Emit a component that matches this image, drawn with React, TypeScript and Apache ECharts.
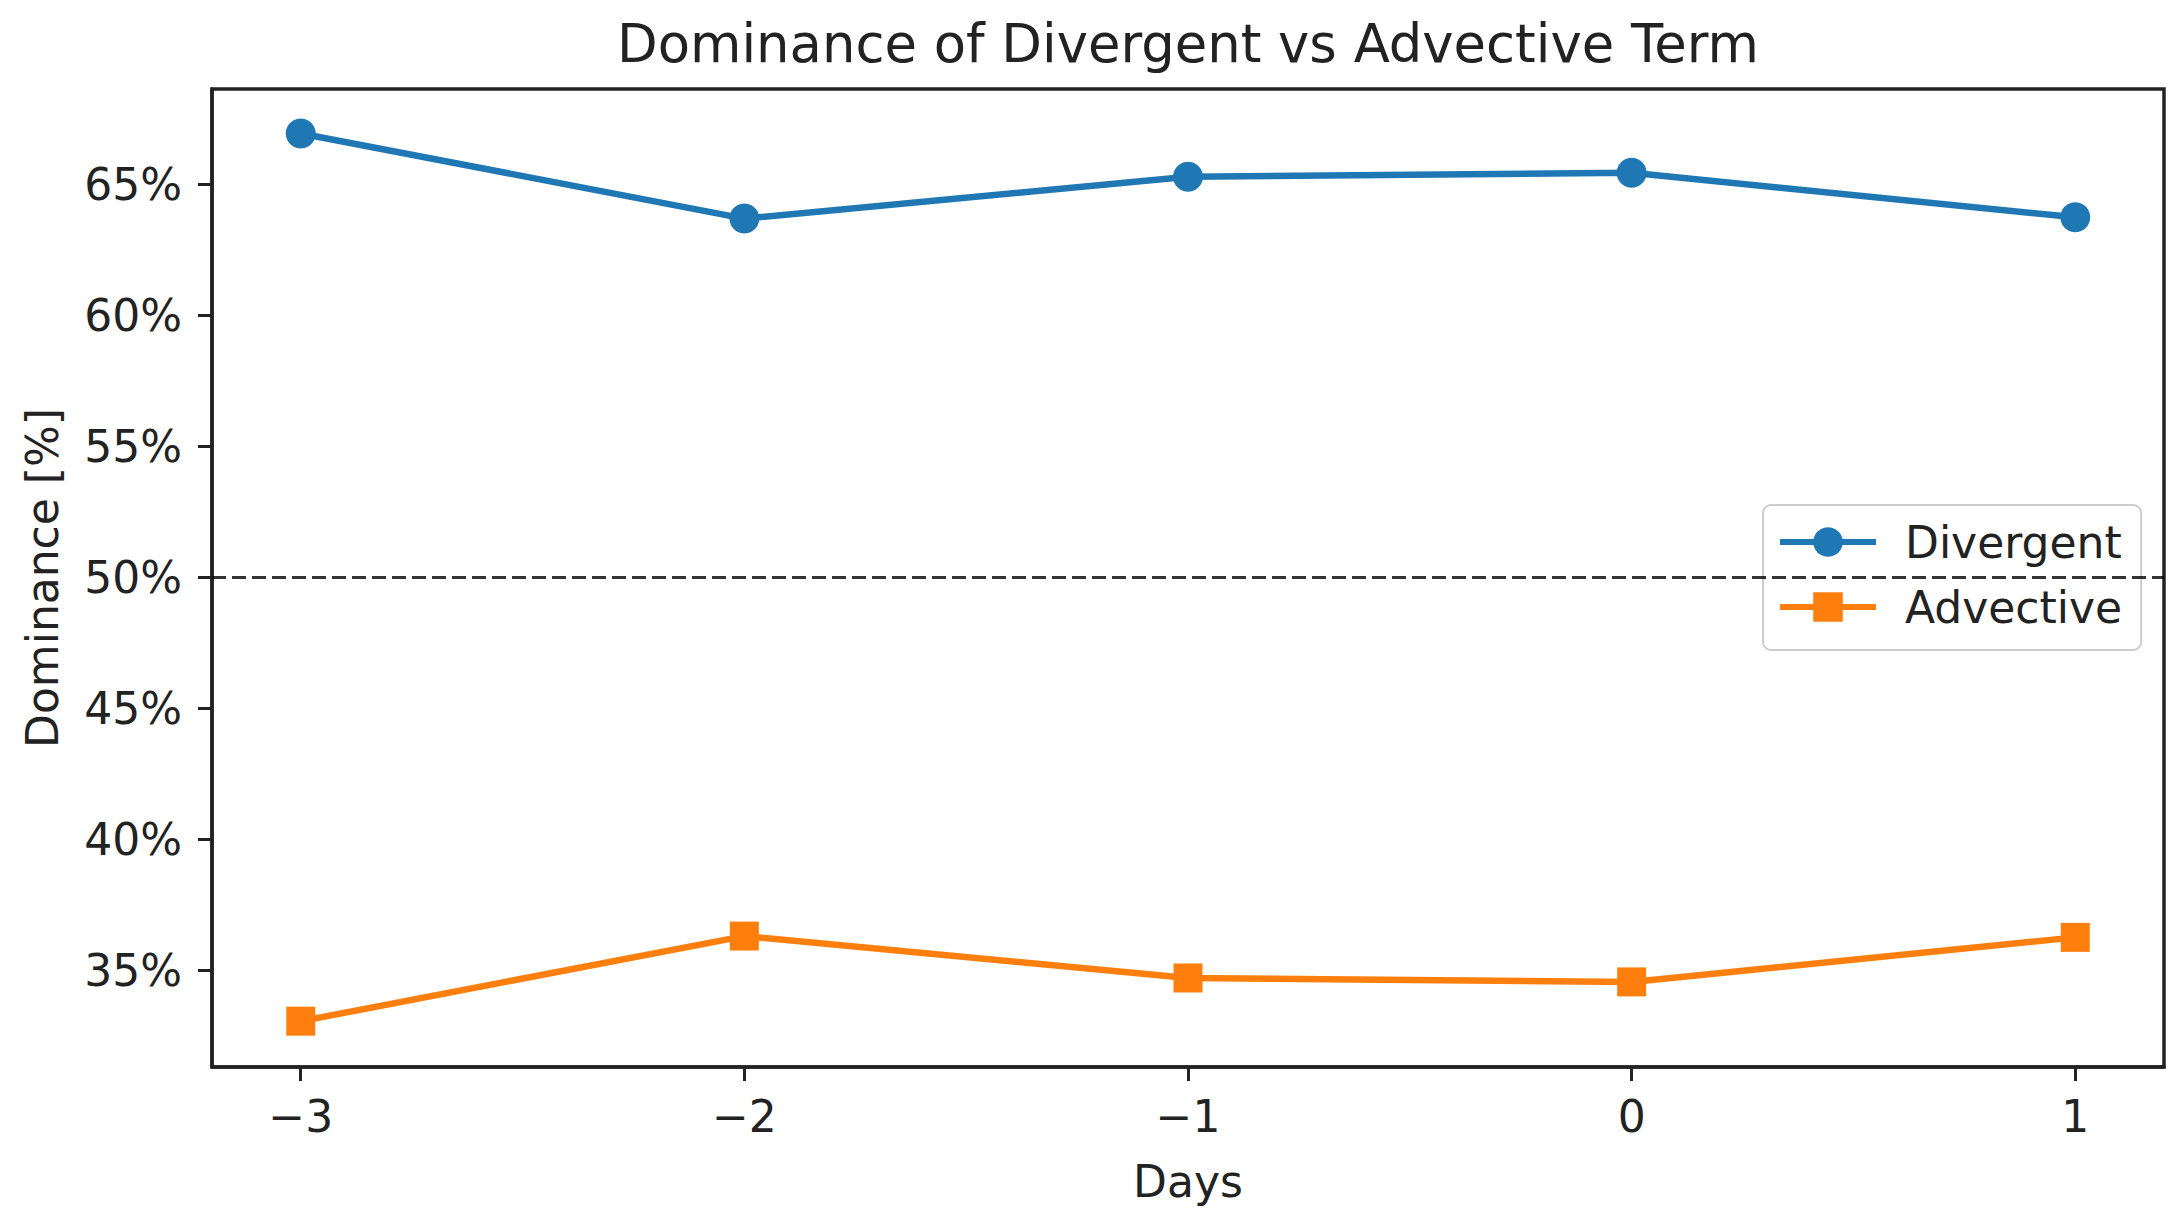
import React, { useEffect, useRef } from "react";
import * as echarts from "echarts";

const days = [-3, -2, -1, 0, 1];
const divergent = [66.95, 63.7, 65.3, 65.45, 63.75];
const advective = [33.05, 36.3, 34.7, 34.55, 36.25];
const yTicks = [35, 40, 45, 50, 55, 60, 65];
const xTicks = [-3, -2, -1, 0, 1];
const refLevel = 50;
const seriesNames = ["Divergent", "Advective"];
const titleText = "Dominance of Divergent vs Advective Term";
const xName = "Days";
const yName = "Dominance [%]";

const FONT = "DejaVu Sans";
const TXT = "#222";

export default function App() {
  const ref = useRef<HTMLDivElement>(null);
  useEffect(() => {
    if (!ref.current) return;
    const chart = echarts.init(ref.current, undefined, { renderer: "svg" });
    const fmtX = (v: number) => (v < 0 ? "\u2212" + Math.abs(v) : String(v));
    const axisCommon = {
      axisLine: { show: true, onZero: false, lineStyle: { color: "#222", width: 3.5 } },
      axisTick: { show: true, inside: false, length: 14, lineStyle: { color: "#222", width: 3 } },
      splitLine: { show: false },
      nameTextStyle: { fontFamily: FONT, fontSize: 44, color: TXT },
    };
    chart.setOption({
      animation: false,
      backgroundColor: "#fff",
      graphic: [
        {
          type: "text",
          x: 1188,
          y: 43,
          style: {
            text: titleText,
            fontFamily: FONT,
            fontSize: 52.8,
            fill: TXT,
            textAlign: "center",
            textVerticalAlign: "middle",
          },
        },
      ],
      grid: {
        left: 212,
        top: 89,
        width: 1952,
        height: 978,
        show: true,
        borderColor: "#222",
        borderWidth: 3.5,
        backgroundColor: "transparent",
        containLabel: false,
      },
      legend: {
        orient: "vertical",
        left: 1763,
        top: 505,
        data: seriesNames,
        itemWidth: 96,
        itemHeight: 37,
        itemGap: 21,
        padding: [15, 19, 21, 14],
        backgroundColor: "rgba(255,255,255,0.8)",
        borderColor: "#cccccc",
        borderWidth: 2,
        borderRadius: 8,
        lineStyle: { width: 6 },
        textStyle: {
          fontFamily: FONT,
          fontSize: 44,
          color: TXT,
          padding: [0, 0, 0, 24],
        },
      },
      xAxis: {
        type: "value",
        min: -3.2,
        max: 1.2,
        name: xName,
        nameLocation: "middle",
        nameGap: 92,
        ...axisCommon,
        axisTick: { ...axisCommon.axisTick, customValues: xTicks },
        axisLabel: {
          customValues: xTicks,
          formatter: fmtX,
          margin: 27,
          fontFamily: FONT,
          fontSize: 44,
          color: TXT,
        },
      },
      yAxis: {
        type: "value",
        min: 31.3,
        max: 68.65,
        name: yName,
        nameLocation: "middle",
        nameRotate: 90,
        nameGap: 148,
        ...axisCommon,
        axisTick: { ...axisCommon.axisTick, customValues: yTicks },
        axisLabel: {
          customValues: yTicks,
          formatter: (v: number) => v + "%",
          margin: 30,
          fontFamily: FONT,
          fontSize: 44,
          color: TXT,
        },
      },
      series: [
        {
          name: seriesNames[0],
          type: "line",
          data: days.map((d, i) => [d, divergent[i]]),
          symbol: "circle",
          symbolSize: 30,
          lineStyle: { color: "#1f77b4", width: 6.5 },
          itemStyle: { color: "#1f77b4" },
          z: 3,
          markLine: {
            silent: true,
            symbol: ["none", "none"],
            label: { show: false },
            lineStyle: { color: "#000", width: 3, type: [14, 6], opacity: 0.8 },
            data: [{ yAxis: refLevel }],
          },
        },
        {
          name: seriesNames[1],
          type: "line",
          data: days.map((d, i) => [d, advective[i]]),
          symbol: "rect",
          symbolSize: 29,
          lineStyle: { color: "#ff7f0e", width: 6.5 },
          itemStyle: { color: "#ff7f0e" },
          z: 3,
        },
      ],
    });
    return () => chart.dispose();
  }, []);
  return (
    <div
      ref={ref}
      style={{ position: "fixed", left: 0, top: 0, width: 2178, height: 1225, background: "#fff" }}
    />
  );
}
